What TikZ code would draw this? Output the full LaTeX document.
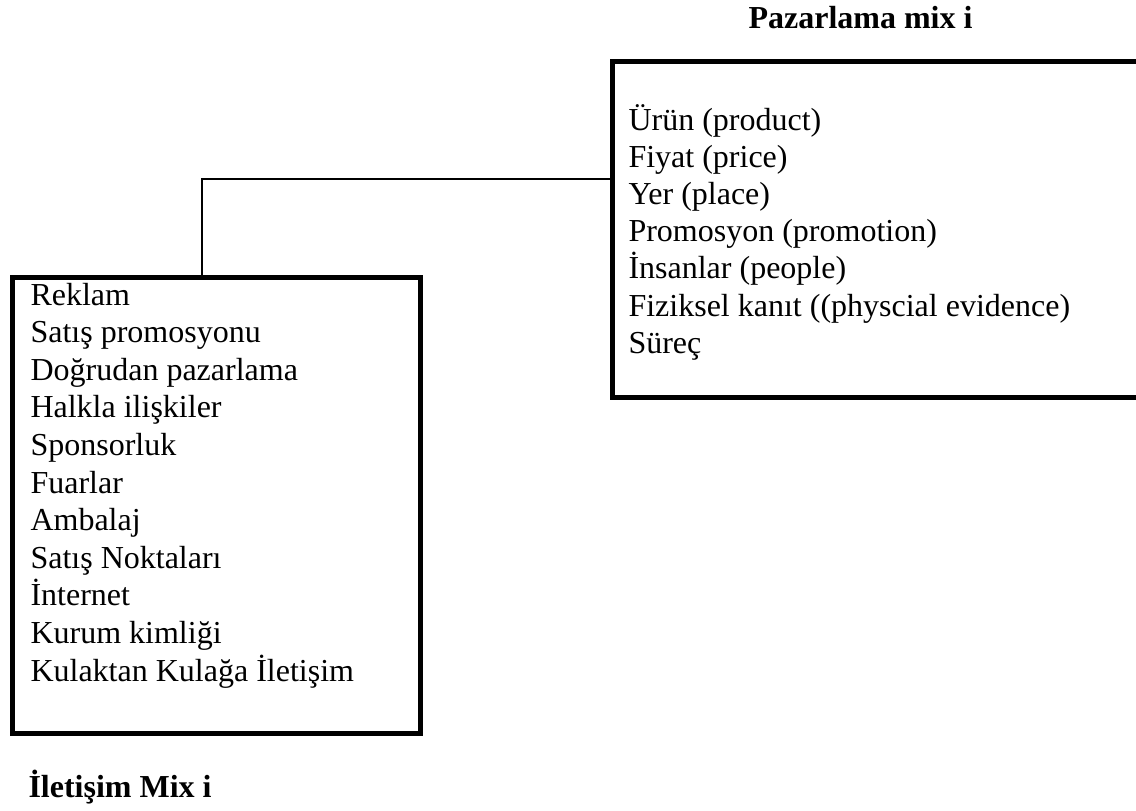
\documentclass[tikz,border=0pt]{standalone}
\usepackage{fontspec}
\setmainfont{Liberation Serif}
\begin{document}
\begin{tikzpicture}[x=0.375pt,y=-0.375pt,
  frame/.style={draw=black,line width=1.875pt,rectangle,inner sep=0pt,anchor=north west},
  link/.style={draw=black,line width=0.6pt},
  item/.style={inner sep=0pt,anchor=base west,font=\fontsize{12pt}{14pt}\selectfont},
  heading/.style={inner sep=0pt,anchor=base west,font=\fontsize{12pt}{14pt}\selectfont\bfseries}]
\useasboundingbox (0,0) rectangle (1136,810);

% the two list boxes
\node[frame,minimum width=527*0.375pt,minimum height=335.8*0.375pt] (rbox) at (610,58.7) {};
\node[frame,minimum width=408.2*0.375pt,minimum height=456.3*0.375pt] (lbox) at (9.8,274.5) {};

% headings
\node[heading] (rtitle) at (748,28) {Pazarlama mix i};
\node[heading] (ltitle) at (28,797) {İletişim Mix i};

% marketing mix items
\foreach \t [count=\i] in {Ürün (product),Fiyat (price),Yer (place),Promosyon (promotion),İnsanlar (people),Fiziksel kanıt ((physcial evidence),Süreç}
  \node[item] (r\i) at (628,{130+37.2*(\i-1)}) {\t};

% communication mix items
\foreach \t [count=\i] in {Reklam,Satış promosyonu,Doğrudan pazarlama,Halkla ilişkiler,Sponsorluk,Fuarlar,Ambalaj,Satış Noktaları,İnternet,Kurum kimliği,Kulaktan Kulağa İletişim}
  \node[item] (l\i) at (30,{305+37.6*(\i-1)}) {\t};

% connector between the boxes
\coordinate (bend) at (201.7,179);
\draw[link] (lbox.north -| bend) -- (bend) -- (bend -| rbox.west);
\end{tikzpicture}
\end{document}
